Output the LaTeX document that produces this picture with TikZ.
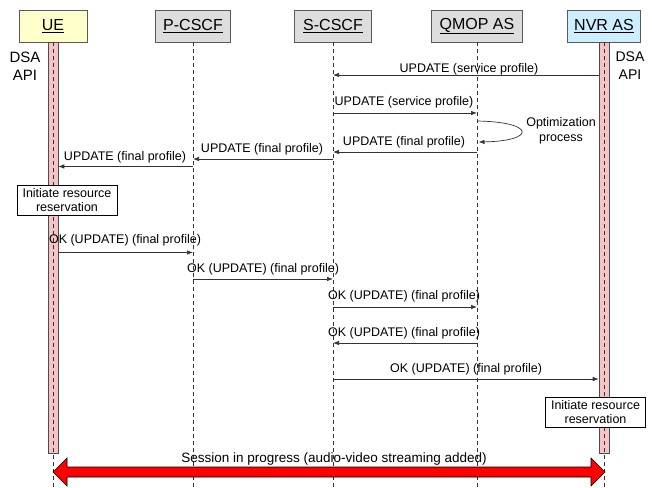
\documentclass[tikz,border=0pt]{standalone}
\usepackage{fontspec}
\setmainfont{Liberation Sans}
\usetikzlibrary{arrows.meta,calc}
\definecolor{uefill}{HTML}{FFFFCC}
\definecolor{hdrgray}{HTML}{DDDDDD}
\definecolor{nvrfill}{HTML}{CCEEFF}
\definecolor{barfill}{HTML}{F6C4C4}
\definecolor{linegray}{HTML}{333333}
\definecolor{sessred}{HTML}{FF0000}
\begin{document}
\begin{tikzpicture}[x=1pt,y=-1pt,
  hdr/.style={draw=gray!70!black, line width=0.9pt, minimum height=32pt, inner sep=0pt,
    font=\fontsize{16}{18}\selectfont},
  life/.style={draw=linegray, dash pattern=on 4pt off 3pt, line width=0.6pt},
  actbar/.style={draw=gray!60!black, fill=barfill, minimum width=10pt, minimum height=411pt,
    inner sep=0pt, line width=0.6pt},
  msg/.style={draw=linegray, line width=0.7pt, -{Latex[length=6pt,width=4.5pt]}},
  lbl/.style={font=\fontsize{12.5}{14}\selectfont, anchor=base, inner sep=0pt},
  side/.style={align=center, inner sep=0pt},
  notebox/.style={draw=black, fill=white, line width=0.6pt, font=\fontsize{12.5}{13.5}\selectfont,
    align=center, inner sep=1pt, minimum width=100pt, minimum height=30pt},
  session/.style={draw=black, fill=sessred, line width=0.6pt}
]
\useasboundingbox (0,0) rectangle (652,487);

% header boxes
\node[hdr, fill=uefill,  minimum width=68pt] (ue)    at (53,26)  {\underline{UE}};
\node[hdr, fill=hdrgray, minimum width=75pt] (pcscf) at (193,26) {\underline{P-CSCF}};
\node[hdr, fill=hdrgray, minimum width=77pt] (scscf) at (333,26) {\underline{S-CSCF}};
\node[hdr, fill=hdrgray, minimum width=91pt] (qmop)  at (477,26) {\underline{QMOP AS}};
\node[hdr, fill=nvrfill, minimum width=73pt] (nvr)   at (604,26) {\underline{NVR AS}};

% bottom end of the lifelines
\coordinate (bottom) at (0,487);

% activation bars
\node[actbar] (uebar)  at (53,247.5)  {};
\node[actbar] (nvrbar) at (604,247.5) {};

% lifelines
\foreach \h in {ue,pcscf,scscf,qmop,nvr}
  \draw[life] (\h.south) -- (\h |- bottom);

% DSA API labels
\node[side, font=\fontsize{15}{18}\selectfont] (dsal) at (25,66) {DSA\\API};
\node[side, font=\fontsize{14}{18}\selectfont] (dsar) at (630,66) {DSA\\API};

% message rows
\coordinate (r1)  at (0,75);
\coordinate (r2)  at (0,113);
\coordinate (r3)  at (0,152);
\coordinate (r4)  at (0,159);
\coordinate (r5)  at (0,166.5);
\coordinate (r6)  at (0,252.5);
\coordinate (r7)  at (0,279);
\coordinate (r8)  at (0,307);
\coordinate (r9)  at (0,343);
\coordinate (r10) at (0,379);

% messages
\draw[msg] (nvrbar.west |- r1) -- (scscf |- r1);
\node[lbl] (l1) at (469,72.5) {UPDATE (service profile)};

\draw[msg] (scscf |- r2) -- (qmop |- r2);
\node[lbl] (l2) at (404,105) {UPDATE (service profile)};

% optimization loop on QMOP AS
\coordinate (optA) at (477,121);
\coordinate (optB) at (478.5,142);
\draw[msg] (optA) .. controls (536,122) and (536,141) .. (optB);
\node[side, font=\fontsize{12.5}{15}\selectfont] (opt) at (561,131) {Optimization\\process};

\draw[msg] (qmop |- r3) -- (scscf |- r3);
\node[lbl] (l3) at (404,145) {UPDATE (final profile)};

\draw[msg] (scscf |- r4) -- (pcscf |- r4);
\node[lbl] (l4) at (262,152) {UPDATE (final profile)};

\draw[msg] (pcscf |- r5) -- (uebar.east |- r5);
\node[lbl] (l5) at (125,160) {UPDATE (final profile)};

\node[notebox] (resue) at (67,200) {Initiate resource\\reservation};

\draw[msg] (uebar.east |- r6) -- (pcscf |- r6);
\node[lbl] (l6) at (125,243.5) {OK (UPDATE) (final profile)};

\draw[msg] (pcscf |- r7) -- (scscf |- r7);
\node[lbl] (l7) at (263,272) {OK (UPDATE) (final profile)};

\draw[msg] (scscf |- r8) -- (qmop |- r8);
\node[lbl] (l8) at (404,299.5) {OK (UPDATE) (final profile)};

\draw[msg] (qmop |- r9) -- (scscf |- r9);
\node[lbl] (l9) at (404,336) {OK (UPDATE) (final profile)};

\draw[msg] (scscf |- r10) -- (nvrbar.west |- r10);
\node[lbl] (l10) at (466,372) {OK (UPDATE) (final profile)};

\node[notebox] (resnvr) at (595.5,412) {Initiate resource\\reservation};

% session in progress: two-headed block arrow between UE and NVR AS
\coordinate (sl) at (53,472);
\coordinate (sr) at (605,472);
\draw[session] (sl) -- ++(14,-14) -- ++(0,9) -- ($(sr)+(-14,-5)$) -- ++(0,-9) -- (sr)
  -- ++(-14,14) -- ++(0,-9) -- ($(sl)+(14,5)$) -- ++(0,9) -- cycle;
\node[lbl, font=\fontsize{13.5}{15}\selectfont] (sess) at (334,462)
  {Session in progress (audio-video streaming added)};
\end{tikzpicture}
\end{document}
